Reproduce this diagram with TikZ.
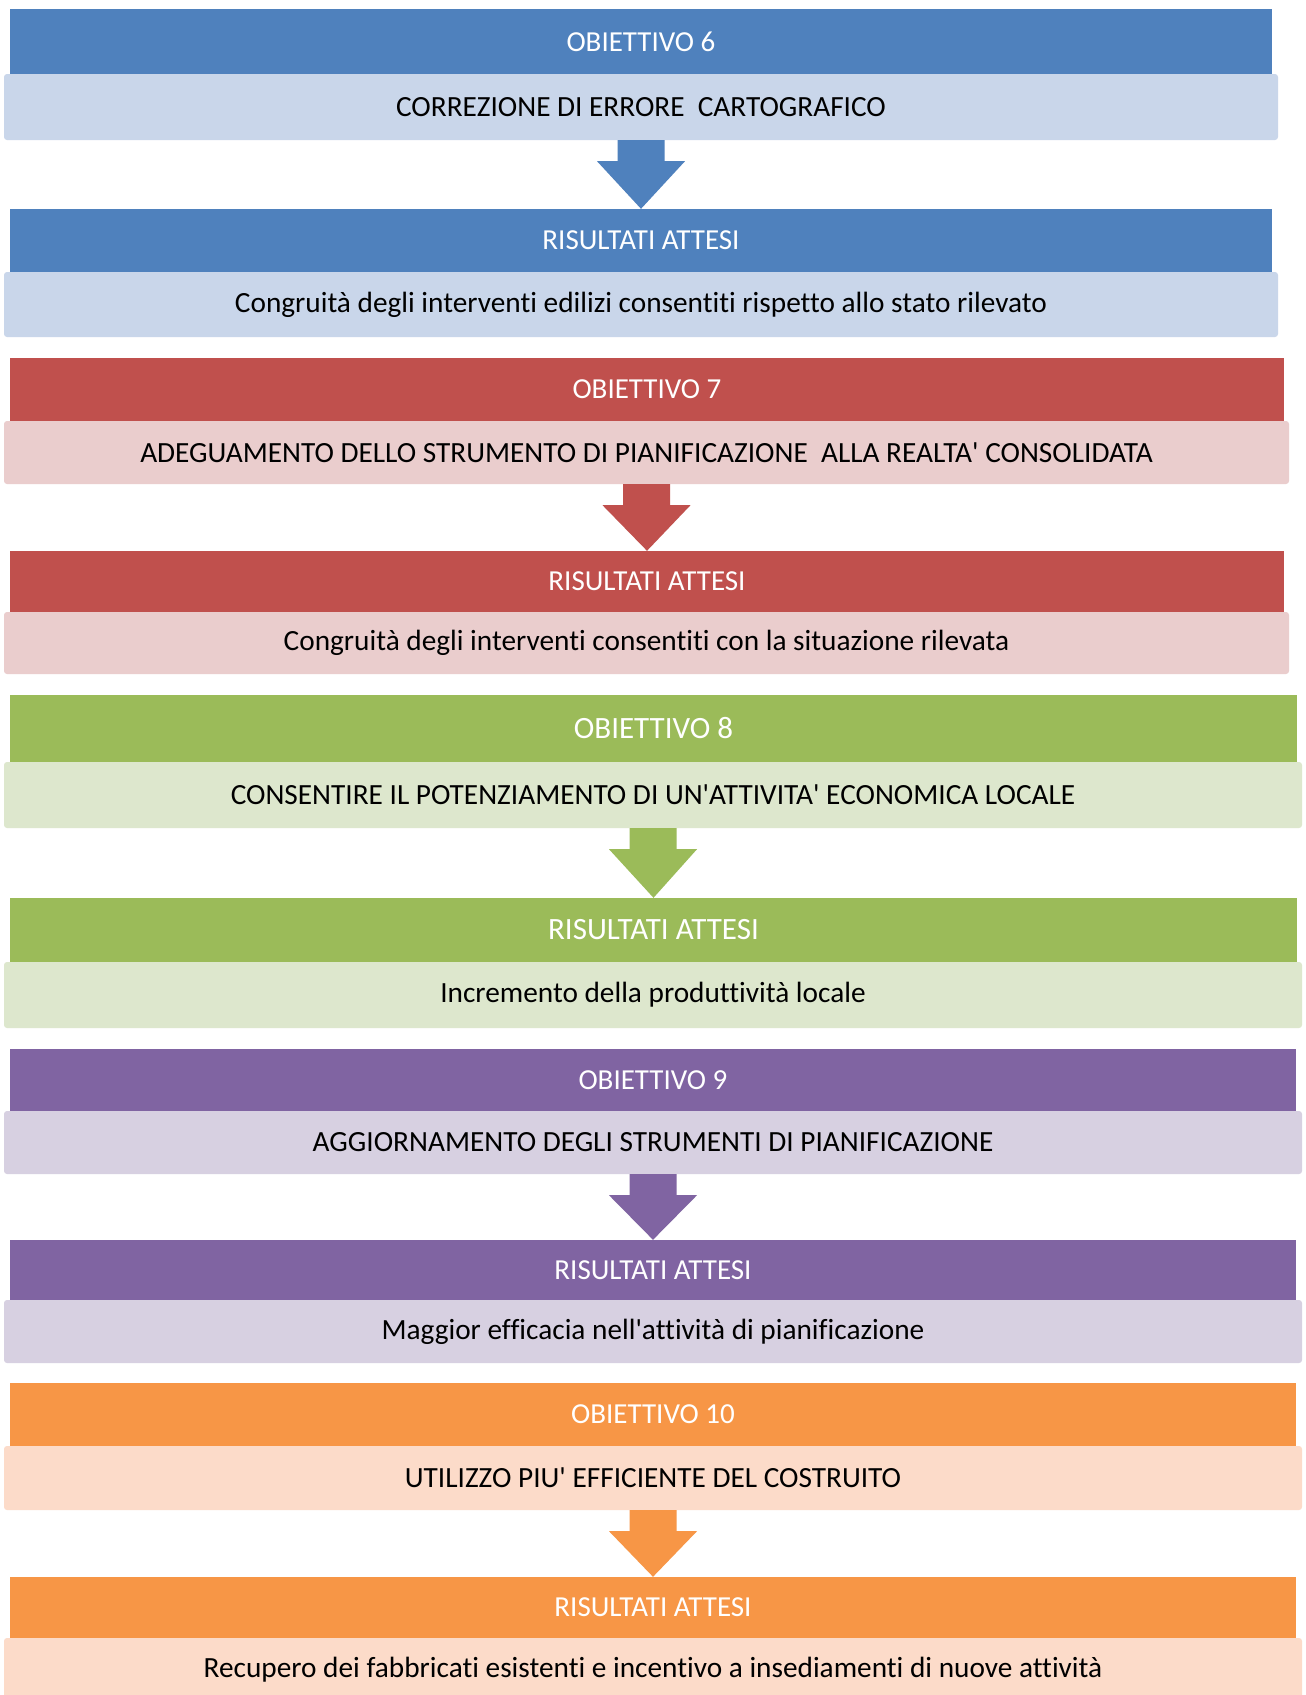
\documentclass[tikz,border=0pt]{standalone}
\usepackage{fontspec}
\setmainfont{Carlito}[Ligatures={NoCommon}]
\usetikzlibrary{calc}
\definecolor{blu}{HTML}{4F81BD}
\definecolor{blupale}{RGB}{201,214,234}
\definecolor{rosso}{HTML}{C0504D}
\definecolor{rossopale}{RGB}{234,205,205}
\definecolor{verde}{HTML}{9BBB59}
\definecolor{verdepale}{RGB}{221,231,205}
\definecolor{viola}{HTML}{8064A2}
\definecolor{violapale}{RGB}{215,208,225}
\definecolor{arancio}{HTML}{F79646}
\definecolor{aranciopale}{RGB}{252,219,201}
\newcommand{\ap}{\textquotesingle}
\tikzset{
  testa/.style={fill=#1, text=white, inner sep=0pt, font=\fontsize{29}{35}\selectfont},
  corpo/.style={fill=#1, rounded corners=3pt, text=black, inner sep=0pt, font=\fontsize{29.3}{35}\selectfont},
}
% freccia piena: dal corpo (#1) alla testata (#2), colore #3
\newcommand{\freccia}[3]{%
  \fill[#3] ($(#1.south)+(-23.5,0)$) -- ($(#1.south)+(23.5,0)$)
    -- ($(#1.south)+(23.5,21)$) -- ($(#1.south)+(44,21)$) -- (#2.north)
    -- ($(#1.south)+(-44,21)$) -- ($(#1.south)+(-23.5,21)$) -- cycle;}
\begin{document}
\begin{tikzpicture}[x=1pt,y=-1pt]
  \clip (0,0) rectangle (1306,1695);
  \fill[white] (0,0) rectangle (1306,1695);
  % obiettivo 6
  \node[testa=blu, minimum width=1262pt, minimum height=65pt] (ob6) at (641,41.5) {OBIETTIVO 6};
  \node[corpo=blupale, minimum width=1274pt, minimum height=66pt] (co6) at (641,107) {CORREZIONE DI ERRORE\ \ CARTOGRAFICO};
  \node[testa=blu, minimum width=1262pt, minimum height=63pt] (ra6) at (641,240.5) {RISULTATI ATTESI};
  \node[corpo=blupale, minimum width=1274pt, minimum height=65pt] (rc6) at (641,304.5) {Congruità degli interventi edilizi consentiti rispetto allo stato rilevato};
  \freccia{co6}{ra6}{blu}
  % obiettivo 7
  \node[testa=rosso, minimum width=1274pt, minimum height=63pt] (ob7) at (647,389.5) {OBIETTIVO 7};
  \node[corpo=rossopale, minimum width=1285pt, minimum height=63pt] (co7) at (646.5,452.5) {ADEGUAMENTO DELLO STRUMENTO DI PIANIFICAZIONE\ \ ALLA REALTA\ap{} CONSOLIDATA};
  \node[testa=rosso, minimum width=1274pt, minimum height=61pt] (ra7) at (647,581.5) {RISULTATI ATTESI};
  \node[corpo=rossopale, minimum width=1285pt, minimum height=62pt] (rc7) at (646.5,643) {Congruità degli interventi consentiti con la situazione rilevata};
  \freccia{co7}{ra7}{rosso}
  % obiettivo 8
  \node[testa=verde, minimum width=1287pt, minimum height=67pt, font=\fontsize{31}{37}\selectfont] (ob8) at (653.5,728.5) {OBIETTIVO 8};
  \node[corpo=verdepale, minimum width=1298pt, minimum height=66pt] (co8) at (653,795) {CONSENTIRE IL POTENZIAMENTO DI UN\ap{}ATTIVITA\ap{} ECONOMICA LOCALE};
  \node[testa=verde, minimum width=1287pt, minimum height=64pt, font=\fontsize{31}{37}\selectfont] (ra8) at (653.5,930) {RISULTATI ATTESI};
  \node[corpo=verdepale, minimum width=1298pt, minimum height=66pt] (rc8) at (653,995) {Incremento della produttività locale};
  \freccia{co8}{ra8}{verde}
  % obiettivo 9
  \node[testa=viola, minimum width=1286pt, minimum height=62pt] (ob9) at (653,1080) {OBIETTIVO 9};
  \node[corpo=violapale, minimum width=1298pt, minimum height=63pt] (co9) at (653,1142.5) {AGGIORNAMENTO DEGLI STRUMENTI DI PIANIFICAZIONE};
  \node[testa=viola, minimum width=1286pt, minimum height=60pt] (ra9) at (653,1270) {RISULTATI ATTESI};
  \node[corpo=violapale, minimum width=1298pt, minimum height=63pt] (rc9) at (653,1331.5) {Maggior efficacia nell\ap{}attività di pianificazione};
  \freccia{co9}{ra9}{viola}
  % obiettivo 10
  \node[testa=arancio, minimum width=1286pt, minimum height=63pt] (ob10) at (653,1414.5) {OBIETTIVO 10};
  \node[corpo=aranciopale, minimum width=1298pt, minimum height=64pt] (co10) at (653,1478) {UTILIZZO PIU\ap{} EFFICIENTE DEL COSTRUITO};
  \node[testa=arancio, minimum width=1286pt, minimum height=61pt] (ra10) at (653,1607.5) {RISULTATI ATTESI};
  \node[corpo=aranciopale, minimum width=1298pt, minimum height=64pt] (rc10) at (653,1670) {Recupero dei fabbricati esistenti e incentivo a insediamenti di nuove attività};
  \freccia{co10}{ra10}{arancio}
\end{tikzpicture}
\end{document}
